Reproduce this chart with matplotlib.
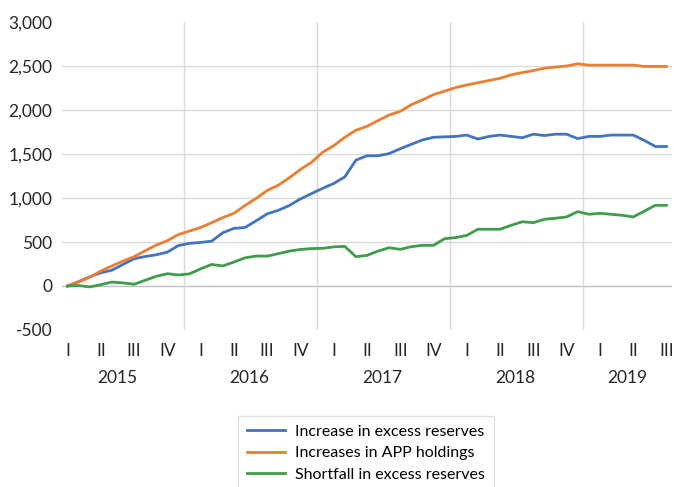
import matplotlib
matplotlib.use("Agg")
import matplotlib.pyplot as plt
from matplotlib.ticker import FuncFormatter
import matplotlib.transforms as mtransforms

# monthly values, Jan 2015 .. Jul 2019
excess_reserves = [0, 50, 105, 150, 180, 245, 310, 335, 355, 385, 460, 485,
                   495, 510, 605, 655, 665, 740, 820, 860, 915, 990, 1050, 1110,
                   1165, 1240, 1430, 1480, 1480, 1505, 1560, 1610, 1660, 1690, 1695, 1700,
                   1715, 1670, 1700, 1715, 1700, 1685, 1725, 1710, 1725, 1725, 1675, 1700,
                   1700, 1715, 1715, 1715, 1655, 1585, 1585]
app_holdings = [0, 45, 100, 170, 228, 283, 333, 400, 465, 515, 585, 625,
                665, 720, 778, 826, 915, 995, 1085, 1145, 1230, 1325, 1405, 1520,
                1595, 1690, 1770, 1815, 1880, 1943, 1985, 2060, 2115, 2175, 2215, 2255,
                2285, 2310, 2335, 2360, 2400, 2425, 2448, 2475, 2488, 2500, 2525, 2510,
                2510, 2510, 2510, 2510, 2495, 2495, 2495]
shortfall = [0, 5, -10, 15, 45, 35, 20, 65, 110, 140, 125, 138,
             195, 245, 228, 272, 320, 340, 340, 367, 397, 415, 425, 428,
             445, 450, 333, 348, 397, 435, 416, 447, 462, 462, 538, 550,
             575, 645, 645, 645, 690, 730, 720, 758, 770, 785, 845, 815,
             826, 815, 804, 785, 850, 917, 917]

quarters = ["I", "II", "III", "IV"]
years = ["2015", "2016", "2017", "2018", "2019"]
year_pos = [4.5, 16.4, 28.4, 40.4, 50.5]
year_lines = [10.5, 22.5, 34.5, 46.5]

plt.rcParams["font.family"] = ["Lato", "DejaVu Sans"]

months = list(range(len(app_holdings)))

fig = plt.figure(figsize=(6.74, 4.87), dpi=100)
ax = fig.add_axes([62 / 674, 1 - 330 / 487, 610 / 674, 308 / 487])

for y in [500, 1000, 1500, 2000, 2500]:
    ax.axhline(y, color="#d9d9d9", linewidth=1, zorder=0)
ax.axhline(0, color="#bfbfbf", linewidth=1, zorder=0)
for x in year_lines:
    ax.axvline(x, color="#d9d9d9", linewidth=1, zorder=0)

ax.plot(months, excess_reserves, color="#4472C4", linewidth=2, label="Increase in excess reserves")
ax.plot(months, app_holdings, color="#ED7D31", linewidth=2, label="Increases in APP holdings")
ax.plot(months, shortfall, color="#3F9C4A", linewidth=2, label="Shortfall in excess reserves")

ax.set_xlim(-0.5, 54.5)
ax.set_ylim(-500, 3000)
ax.set_yticks(range(-500, 3001, 500))
ax.yaxis.set_major_formatter(FuncFormatter(lambda v, p: f"{int(v):,}"))

qticks = list(range(0, 55, 3))
ax.set_xticks(qticks)
ax.set_xticklabels([quarters[(i // 3) % 4] for i in qticks])

for s in ax.spines.values():
    s.set_visible(False)
ax.tick_params(axis="both", length=0, labelsize=12.5, colors="#262626")
ax.tick_params(axis="y", pad=7)
ax.tick_params(axis="x", pad=9)

trans = mtransforms.blended_transform_factory(ax.transData, ax.transAxes)
for yr, xp in zip(years, year_pos):
    ax.text(xp, -0.155, yr, transform=trans, ha="center", va="center",
            fontsize=12.5, color="#262626")

leg = fig.legend(loc="upper center", bbox_to_anchor=(366 / 674, 1 - 408 / 487),
                 fontsize=11.5, frameon=True, fancybox=False, handlelength=2.4,
                 handletextpad=0.6, labelspacing=0.45, borderpad=0.55)
leg.get_frame().set_edgecolor("#d9d9d9")
leg.get_frame().set_linewidth(1)

fig.savefig("out.png", dpi=100)
